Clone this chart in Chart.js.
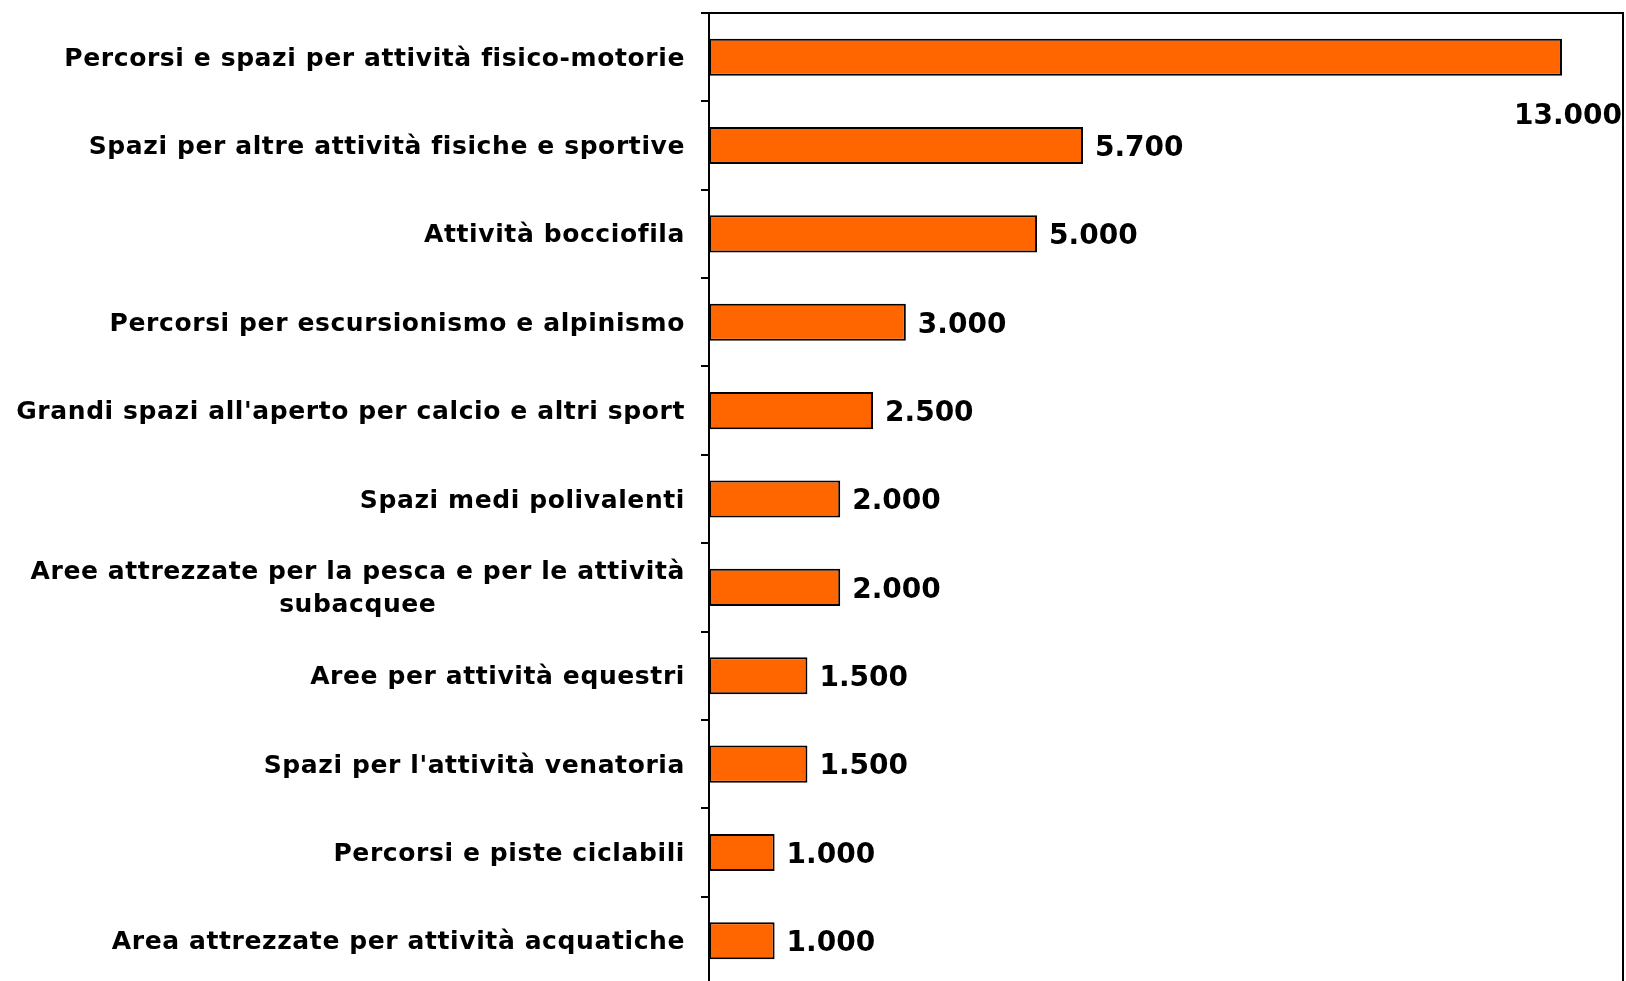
<!DOCTYPE html>
<html>
<head>
<meta charset="utf-8">
<script src="https://cdn.jsdelivr.net/npm/chart.js@4"></script>
<style>
  html, body { margin: 0; padding: 0; background: #fff; overflow: hidden; }
  #wrap { width: 1626px; height: 1000px; }
</style>
</head>
<body>
<div id="wrap"><canvas id="chart"></canvas></div>
<script>
// Data
const categories = [
  "Percorsi e spazi per attività fisico-motorie",
  "Spazi per altre attività fisiche e sportive",
  "Attività bocciofila",
  "Percorsi per escursionismo e alpinismo",
  "Grandi spazi all'aperto per calcio e altri sport",
  "Spazi medi polivalenti",
  ["Aree attrezzate per la pesca e per le attività", "subacquee"],
  "Aree per attività equestri",
  "Spazi per l'attività venatoria",
  "Percorsi e piste ciclabili",
  "Area attrezzate per attività acquatiche"
];
const values = [13000, 5700, 5000, 3000, 2500, 2000, 2000, 1500, 1500, 1000, 1000];
const valueLabels = ["13.000", "5.700", "5.000", "3.000", "2.500", "2.000", "2.000", "1.500", "1.500", "1.000", "1.000"];

const labelFont = "bold 25px 'DejaVu Sans', Verdana, sans-serif";
const valueFont = "bold 28px 'DejaVu Sans', Verdana, sans-serif";

// Draws category names, value labels and the box around the plot
const decorations = {
  id: "decorations",
  afterDatasetsDraw(chart) {
    const ctx = chart.ctx;
    const area = chart.chartArea;
    const yScale = chart.scales.y;
    const meta = chart.getDatasetMeta(0);

    ctx.save();
    ctx.fillStyle = "#000";
    ctx.textBaseline = "middle";

    // category labels
    ctx.font = labelFont;
    ctx.letterSpacing = "0.6px";
    const lineH = 33;
    categories.forEach((cat, i) => {
      const y = yScale.getPixelForValue(i) + 2;
      const lines = Array.isArray(cat) ? cat : [cat];
      const widths = lines.map(l => ctx.measureText(l).width);
      const maxW = Math.max(...widths);
      const right = area.left - 24;
      const startY = y - (lines.length - 1) * lineH / 2;
      lines.forEach((l, j) => {
        ctx.textAlign = "center";
        ctx.fillText(l, right - maxW / 2, startY + j * lineH);
      });
    });

    // value labels
    ctx.font = valueFont;
    ctx.letterSpacing = "0px";
    meta.data.forEach((bar, i) => {
      const txt = valueLabels[i];
      const w = ctx.measureText(txt).width;
      if (bar.x + 12 + w > area.right) {
        ctx.textAlign = "right";
        ctx.fillText(txt, area.right - 1, bar.y + 60);
      } else {
        ctx.textAlign = "left";
        ctx.fillText(txt, bar.x + 12, bar.y + 3);
      }
    });

    // frame
    ctx.strokeStyle = "#000";
    ctx.lineWidth = 2;
    ctx.strokeRect(area.left, area.top, area.right - area.left, area.bottom - area.top);
    ctx.restore();
  }
};

new Chart(document.getElementById("chart"), {
  type: "bar",
  data: {
    labels: categories,
    datasets: [{
      data: values,
      backgroundColor: "#FF6600",
      borderColor: "#000",
      borderWidth: 2,
      borderSkipped: false,
      barPercentage: 0.42,
      categoryPercentage: 1
    }]
  },
  options: {
    indexAxis: "y",
    responsive: true,
    maintainAspectRatio: false,
    animation: false,
    layout: { padding: { left: 701, top: 13, right: 3, bottom: 15 } },
    plugins: {
      legend: { display: false },
      tooltip: { enabled: false }
    },
    scales: {
      x: {
        min: 0,
        max: 13930,
        display: false
      },
      y: {
        grid: {
          offset: true,
          drawOnChartArea: false,
          color: "#000",
          lineWidth: 2,
          tickLength: 8
        },
        border: { display: true, color: "#000", width: 2 },
        ticks: { display: false }
      }
    }
  },
  plugins: [decorations]
});
</script>
</body>
</html>
